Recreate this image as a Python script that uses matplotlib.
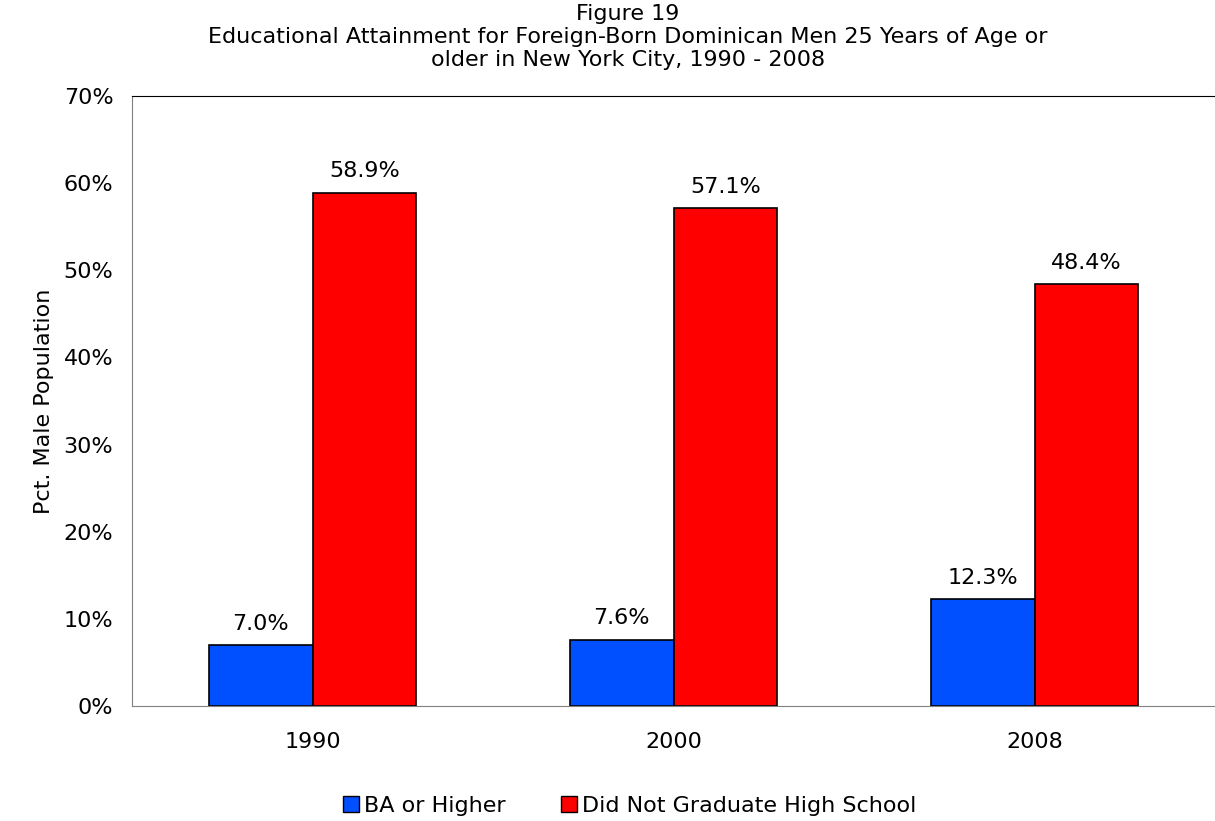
import numpy as np
import matplotlib.pyplot as plt
from matplotlib.patches import Patch

years = ['1990', '2000', '2008']
ba_higher = [7.0, 7.6, 12.3]
no_hs = [58.9, 57.1, 48.4]

blue = '#0050FF'
red = '#FF0000'

plt.rcParams['font.family'] = 'DejaVu Sans'
fs = 16

fig = plt.figure(figsize=(12.15, 8.21), dpi=100)
ax = fig.add_axes([132 / 1215, 1 - 706 / 821, 1 - 132 / 1215, (706 - 96) / 821])

x = np.arange(len(years))
w = 0.288
b1 = ax.bar(x - w / 2, ba_higher, w, color=blue, edgecolor='black', linewidth=1.2)
b2 = ax.bar(x + w / 2, no_hs, w, color=red, edgecolor='black', linewidth=1.2)

# value labels above bars
for bars, vals in [(b1, ba_higher), (b2, no_hs)]:
    for rect, v in zip(bars, vals):
        ax.annotate(f'{v:.1f}%', (rect.get_x() + rect.get_width() / 2, v),
                    xytext=(0, 11), textcoords='offset points',
                    ha='center', va='baseline', fontsize=fs)

ax.set_xlim(-0.5, 2.5)
ax.set_ylim(0, 70)
ax.set_yticks(np.arange(0, 71, 10))
ax.set_yticklabels([f'{t}%' for t in range(0, 71, 10)])
ax.set_xticks(x)
ax.set_xticklabels(years)
ax.tick_params(axis='both', length=0, labelsize=fs)
ax.tick_params(axis='x', pad=19)
ax.tick_params(axis='y', pad=13.5)

ax.spines['right'].set_visible(False)
ax.spines['top'].set_color('black')
ax.spines['left'].set_color('#808080')
ax.spines['bottom'].set_color('#808080')

ax.set_ylabel('Pct. Male Population', fontsize=fs, labelpad=7)

# three title lines
title_lines = ['Figure 19',
               'Educational Attainment for Foreign-Born Dominican Men 25 Years of Age or',
               'older in New York City, 1990 - 2008']
for line, ypix in zip(title_lines, [14, 37, 60]):
    fig.text(628 / 1215, 1 - ypix / 821, line, ha='center', va='center', fontsize=fs)

handles = [Patch(facecolor=blue, edgecolor='black', label='BA or Higher'),
           Patch(facecolor=red, edgecolor='black', label='Did Not Graduate High School')]
fig.legend(handles=handles, loc='center', bbox_to_anchor=(630 / 1215, 1 - 806 / 821),
           ncol=2, frameon=False, fontsize=fs, handlelength=0.72, handleheight=0.72,
           handletextpad=0.22, columnspacing=2.5, borderpad=0)

fig.savefig('out.png', dpi=100)
